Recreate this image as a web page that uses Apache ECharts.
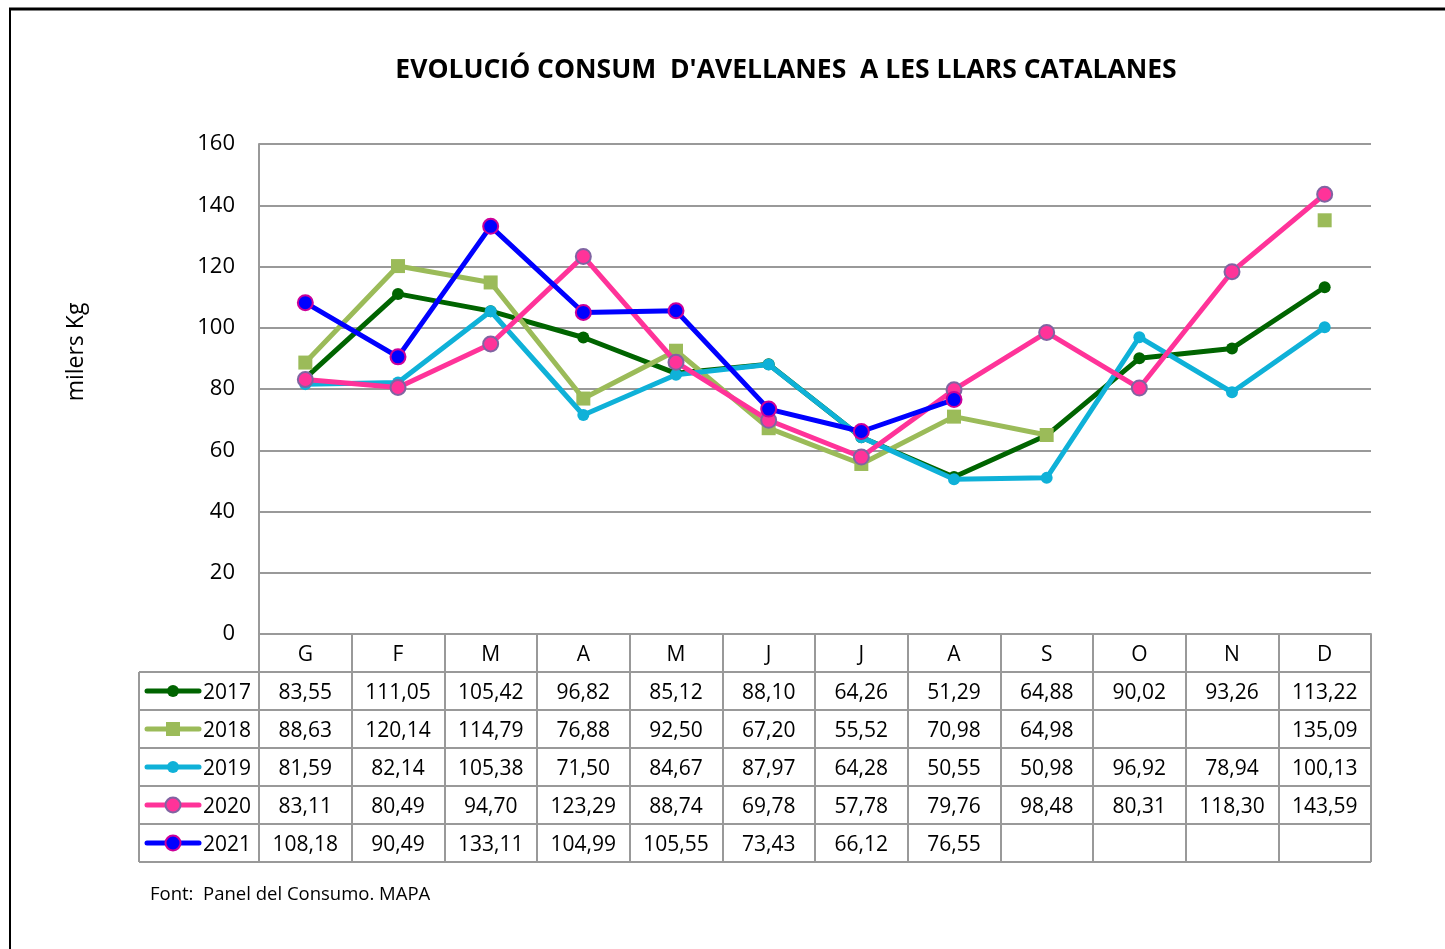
<!DOCTYPE html>
<html>
<head>
<meta charset="utf-8">
<title>Evolució consum d'avellanes</title>
<script src="https://cdn.jsdelivr.net/npm/echarts@6/dist/echarts.min.js"></script>
<style>
  html, body { margin: 0; padding: 0; background: #fff; }
  #chart { width: 1445px; height: 949px; }
</style>
</head>
<body>
<div id="chart"></div>
<script>
// Months (Catalan initials)
const months = ['G', 'F', 'M', 'A', 'M', 'J', 'J', 'A', 'S', 'O', 'N', 'D'];
const years = ['2017', '2018', '2019', '2020', '2021'];

// Household hazelnut consumption, thousands of kg
const v2017 = [83.55, 111.05, 105.42, 96.82, 85.12, 88.10, 64.26, 51.29, 64.88, 90.02, 93.26, 113.22];
const v2018 = [88.63, 120.14, 114.79, 76.88, 92.50, 67.20, 55.52, 70.98, 64.98, null, null, 135.09];
const v2019 = [81.59, 82.14, 105.38, 71.50, 84.67, 87.97, 64.28, 50.55, 50.98, 96.92, 78.94, 100.13];
const v2020 = [83.11, 80.49, 94.70, 123.29, 88.74, 69.78, 57.78, 79.76, 98.48, 80.31, 118.30, 143.59];
const v2021 = [108.18, 90.49, 133.11, 104.99, 105.55, 73.43, 66.12, 76.55, null, null, null, null];

const yTicks = [0, 20, 40, 60, 80, 100, 120, 140, 160];

const seriesValues = [v2017, v2018, v2019, v2020, v2021];

// Series styling
const styles = [
  { color: '#006400', symbol: 'circle', size: 12, border: null },
  { color: '#9BBB59', symbol: 'rect', size: 14, border: null },
  { color: '#0FB1D8', symbol: 'circle', size: 12, border: null },
  { color: '#FF3399', symbol: 'circle', size: 15, border: '#8064A2' },
  { color: '#0000FF', symbol: 'circle', size: 15, border: '#CC0099' }
];

const FONT = '"Open Sans", "Noto Sans", sans-serif';
const GRID = { left: 259, right: 74, top: 144, bottom: 315 };
const ROW_H = 38;
const TABLE_LEFT = 139;
const GRAY = '#999999';
const LINE_W = 5;

const chart = echarts.init(document.getElementById('chart'), null, { renderer: 'canvas' });

const fmt = v => (v === null || v === undefined) ? '' : v.toFixed(2).replace('.', ',');

chart.setOption({
  animation: false,
  backgroundColor: '#ffffff',
  textStyle: { fontFamily: FONT },
  grid: { left: GRID.left, right: GRID.right, top: GRID.top, bottom: GRID.bottom, containLabel: false },
  xAxis: {
    type: 'category',
    data: months,
    boundaryGap: true,
    axisLine: { show: true, lineStyle: { color: GRAY, width: 2 } },
    axisTick: { show: true, interval: 0, alignWithLabel: false, length: ROW_H * 6, lineStyle: { color: GRAY, width: 2 } },
    axisLabel: { interval: 0, margin: 21, fontSize: 21, color: '#000', fontFamily: FONT, verticalAlign: 'middle' },
    splitLine: { show: false }
  },
  yAxis: {
    type: 'value',
    min: yTicks[0],
    max: yTicks[yTicks.length - 1],
    interval: yTicks[1] - yTicks[0],
    axisLine: { show: true, lineStyle: { color: GRAY, width: 2 } },
    axisTick: { show: false },
    axisLabel: { margin: 24, fontSize: 22, color: '#000', fontFamily: FONT, padding: [3, 0, 0, 0] },
    splitLine: { show: true, lineStyle: { color: GRAY, width: 2 } }
  },
  series: seriesValues.map((vals, i) => ({
    name: years[i],
    type: 'line',
    data: vals,
    connectNulls: false,
    showSymbol: true,
    symbol: styles[i].symbol,
    symbolSize: styles[i].size,
    lineStyle: { color: styles[i].color, width: LINE_W },
    itemStyle: {
      color: styles[i].color,
      borderColor: styles[i].border || styles[i].color,
      borderWidth: styles[i].border ? 2 : 0
    },
    emphasis: { disabled: true },
    z: 2 + i
  }))
});

// Data table under the plot, columns aligned with the category axis
function buildGraphics() {
  const g = [];
  const baseY = chart.convertToPixel({ yAxisIndex: 0 }, 0);
  const plotRight = 1445 - GRID.right;
  const headerBottom = baseY + ROW_H;

  // Outer frame
  g.push({ type: 'line', shape: { x1: 9, y1: 9, x2: 1445, y2: 9 }, style: { stroke: '#000', lineWidth: 3 }, z: 10 });
  g.push({ type: 'line', shape: { x1: 10, y1: 8, x2: 10, y2: 949 }, style: { stroke: '#000', lineWidth: 2 }, z: 10 });

  // Title
  g.push({
    type: 'text', x: 786, y: 70, z: 10,
    style: { text: "EVOLUCIÓ CONSUM  D'AVELLANES  A LES LLARS CATALANES", fontFamily: FONT, fontWeight: 'bold', fontSize: 26.5, fill: '#000', textAlign: 'center', textVerticalAlign: 'middle' }
  });

  // Y axis name
  g.push({
    type: 'text', x: 76, y: 352, rotation: Math.PI / 2, z: 10,
    style: { text: 'milers Kg', fontFamily: FONT, fontSize: 23, fill: '#000', textAlign: 'center', textVerticalAlign: 'middle' }
  });

  // Source note
  g.push({
    type: 'text', x: 150, y: 895, z: 10,
    style: { text: 'Font:  Panel del Consumo. MAPA', fontFamily: FONT, fontSize: 18.5, fill: '#000', textAlign: 'left', textVerticalAlign: 'middle' }
  });

  // Horizontal table rules
  for (let r = 0; r <= years.length; r++) {
    const y = headerBottom + r * ROW_H;
    g.push({ type: 'line', shape: { x1: TABLE_LEFT, y1: y, x2: plotRight, y2: y }, style: { stroke: GRAY, lineWidth: 2 }, z: 5 });
  }
  // Left table rule
  g.push({ type: 'line', shape: { x1: TABLE_LEFT, y1: headerBottom, x2: TABLE_LEFT, y2: headerBottom + ROW_H * years.length }, style: { stroke: GRAY, lineWidth: 2 }, z: 5 });

  // Rows: legend key + values
  years.forEach((yr, r) => {
    const cy = headerBottom + r * ROW_H + ROW_H / 2;
    const ty = cy + 2;
    const st = styles[r];
    g.push({ type: 'line', shape: { x1: 147, y1: cy, x2: 199, y2: cy }, style: { stroke: st.color, lineWidth: LINE_W, lineCap: 'round' }, z: 6 });
    if (st.symbol === 'rect') {
      g.push({ type: 'rect', shape: { x: 173 - st.size / 2, y: cy - st.size / 2, width: st.size, height: st.size }, style: { fill: st.color }, z: 7 });
    } else {
      g.push({ type: 'circle', shape: { cx: 173, cy: cy, r: st.size / 2 }, style: { fill: st.color, stroke: st.border || st.color, lineWidth: st.border ? 2 : 0 }, z: 7 });
    }
    g.push({ type: 'text', x: 203, y: ty, z: 7, style: { text: yr, fontFamily: FONT, fontSize: 21, fill: '#000', textAlign: 'left', textVerticalAlign: 'middle' } });

    seriesValues[r].forEach((v, c) => {
      if (v === null) return;
      const cx = chart.convertToPixel({ xAxisIndex: 0 }, c);
      g.push({ type: 'text', x: cx, y: ty, z: 7, style: { text: fmt(v), fontFamily: FONT, fontSize: 21, fill: '#000', textAlign: 'center', textVerticalAlign: 'middle' } });
    });
  });
  return g;
}

chart.setOption({ graphic: { elements: buildGraphics() } });
</script>
</body>
</html>
